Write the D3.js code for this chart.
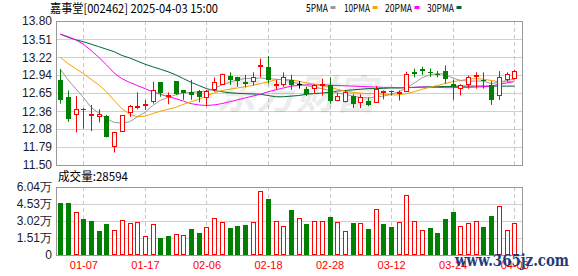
<!DOCTYPE html>
<html>
<head>
<meta charset="utf-8">
<script src="https://cdn.jsdelivr.net/npm/d3@7/dist/d3.min.js"></script>
<style>
    body { margin: 0; background: #fff; }
    svg { display: block; }
</style>
</head>
<body>
<svg id="chart" width="578" height="276"></svg>
<script>
//data
const dates = ['01-02', '01-03', '01-06', '01-07', '01-08', '01-09', '01-10', '01-13', '01-14', '01-15',
    '01-16', '01-17', '01-20', '01-21', '01-22', '01-23', '01-24', '01-27', '02-05', '02-06',
    '02-07', '02-10', '02-11', '02-12', '02-13', '02-14', '02-17', '02-18', '02-19', '02-20',
    '02-21', '02-24', '02-25', '02-26', '02-27', '02-28', '03-03', '03-04', '03-05', '03-06',
    '03-07', '03-10', '03-11', '03-12', '03-13', '03-14', '03-17', '03-18', '03-19', '03-20',
    '03-21', '03-24', '03-25', '03-26', '03-27', '03-28', '03-31', '04-01', '04-02', '04-03'];

const openP = [12.86, 12.59, 12.29, 12.39, 12.29, 12.26, 12.28, 11.78, 12.03, 12.33,
    12.41, 12.44, 12.50, 12.82, 12.59, 12.84, 12.69, 12.67, 12.68, 12.57,
    12.70, 12.79, 12.92, 12.90, 12.82, 12.82, 13.08, 13.07, 12.78, 12.77,
    12.86, 12.79, 12.71, 12.70, 12.77, 12.77, 12.52, 12.50, 12.60, 12.50,
    12.53, 12.50, 12.66, 12.68, 12.64, 12.68, 12.98, 13.04, 12.99, 12.96,
    13.00, 12.79, 12.71, 12.78, 12.91, 12.86, 12.77, 12.60, 12.85, 12.87];
const highP = [13.03, 12.69, 12.60, 12.41, 12.46, 12.39, 12.30, 12.03, 12.30, 12.46,
    12.66, 12.54, 12.83, 12.82, 12.66, 12.84, 12.69, 12.86, 12.70, 12.70,
    12.90, 12.96, 12.98, 12.91, 12.94, 12.98, 13.20, 13.24, 12.86, 12.98,
    12.94, 12.84, 12.75, 12.79, 12.88, 12.90, 12.65, 12.70, 12.63, 12.63,
    12.58, 12.76, 12.69, 12.69, 12.69, 12.99, 13.04, 13.07, 13.04, 13.00,
    13.09, 12.86, 12.79, 12.93, 12.98, 12.98, 12.84, 13.00, 12.98, 13.02];
const lowP = [12.48, 12.19, 12.02, 12.08, 12.04, 12.18, 11.94, 11.70, 12.03, 12.27,
    12.39, 12.38, 12.48, 12.59, 12.47, 12.62, 12.54, 12.54, 12.50, 12.44,
    12.67, 12.78, 12.78, 12.75, 12.74, 12.77, 12.90, 12.80, 12.71, 12.75,
    12.70, 12.72, 12.60, 12.65, 12.61, 12.48, 12.52, 12.50, 12.41, 12.41,
    12.44, 12.50, 12.55, 12.61, 12.53, 12.68, 12.90, 12.94, 12.91, 12.90,
    12.80, 12.54, 12.61, 12.72, 12.72, 12.72, 12.46, 12.54, 12.83, 12.87];
const closeP = [12.54, 12.24, 12.39, 12.37, 12.31, 12.31, 11.94, 12.02, 12.30, 12.44,
    12.44, 12.47, 12.69, 12.65, 12.62, 12.63, 12.65, 12.63, 12.59, 12.68,
    12.82, 12.96, 12.86, 12.84, 12.79, 12.90, 13.10, 12.86, 12.80, 12.90,
    12.78, 12.79, 12.63, 12.77, 12.79, 12.52, 12.60, 12.66, 12.48, 12.59,
    12.47, 12.72, 12.68, 12.66, 12.67, 12.96, 12.95, 13.01, 12.97, 12.95,
    12.87, 12.74, 12.77, 12.90, 12.93, 12.85, 12.53, 12.90, 12.95, 13.00];

const ma5 = [13.03, 12.86, 12.72, 12.58, 12.42, 12.33, 12.24, 12.18, 12.17, 12.19,
    12.27, 12.34, 12.45, 12.53, 12.58, 12.62, 12.65, 12.66, 12.67, 12.68,
    12.72, 12.78, 12.82, 12.86, 12.88, 12.88, 12.89, 12.88, 12.87, 12.86,
    12.83, 12.80, 12.77, 12.74, 12.72, 12.69, 12.65, 12.63, 12.60, 12.58,
    12.57, 12.59, 12.60, 12.63, 12.67, 12.73, 12.81, 12.89, 12.94, 12.96,
    12.95, 12.89, 12.85, 12.84, 12.84, 12.84, 12.80, 12.82, 12.85, 12.87];
const ma10 = [13.22, 13.12, 13.04, 12.96, 12.87, 12.78, 12.67, 12.53, 12.40, 12.31,
    12.27, 12.28, 12.32, 12.36, 12.39, 12.42, 12.47, 12.51, 12.55, 12.60,
    12.65, 12.69, 12.71, 12.73, 12.75, 12.77, 12.80, 12.83, 12.86, 12.87,
    12.86, 12.84, 12.81, 12.79, 12.77, 12.74, 12.71, 12.68, 12.66, 12.65,
    12.64, 12.64, 12.63, 12.62, 12.62, 12.64, 12.67, 12.71, 12.74, 12.77,
    12.80, 12.83, 12.85, 12.87, 12.88, 12.87, 12.85, 12.83, 12.83, 12.84];
const ma20 = [13.59, 13.55, 13.50, 13.43, 13.33, 13.22, 13.10, 12.97, 12.88, 12.82,
    12.77, 12.72, 12.67, 12.63, 12.59, 12.56, 12.52, 12.48, 12.46, 12.45,
    12.46, 12.48, 12.51, 12.54, 12.57, 12.60, 12.63, 12.67, 12.70, 12.73,
    12.76, 12.77, 12.78, 12.78, 12.78, 12.775, 12.77, 12.765, 12.76, 12.755,
    12.75, 12.745, 12.74, 12.74, 12.735, 12.735, 12.74, 12.745, 12.74, 12.74,
    12.735, 12.735, 12.74, 12.74, 12.745, 12.75, 12.76, 12.79, 12.81, 12.83];
const ma30 = [13.59, 13.54, 13.50, 13.47, 13.43, 13.39, 13.35, 13.31, 13.25, 13.21,
    13.16, 13.11, 13.07, 13.03, 12.99, 12.94, 12.88, 12.82, 12.77, 12.72,
    12.69, 12.67, 12.655, 12.645, 12.64, 12.635, 12.63, 12.61, 12.59, 12.59,
    12.60, 12.61, 12.63, 12.64, 12.65, 12.66, 12.68, 12.69, 12.70, 12.71,
    12.72, 12.72, 12.725, 12.73, 12.73, 12.735, 12.74, 12.745, 12.75, 12.75,
    12.755, 12.755, 12.76, 12.76, 12.76, 12.76, 12.76, 12.76, 12.76, 12.76];

const volume = [46200, 46200, 37900, 32000, 30200, 21300, 27500, 21900, 30800, 28400,
    29000, 16900, 27200, 15100, 16900, 18400, 17800, 23100, 19500, 24900,
    32600, 29000, 24300, 25800, 26700, 29000, 56900, 50000, 29900, 25500,
    40000, 32600, 27500, 29900, 29900, 33800, 29000, 21000, 28400, 28100,
    23100, 40900, 27500, 24900, 29000, 53000, 29900, 21900, 24000, 19500,
    32000, 38200, 25500, 28100, 29900, 24900, 34600, 43200, 21900, 28594];
const volUp = [0, 0, 1, 0, 0, 0, 0, 1, 1, 1,
    1, 1, 1, 0, 0, 1, 1, 0, 0, 1,
    1, 1, 0, 0, 0, 1, 1, 0, 1, 1,
    0, 1, 0, 1, 1, 0, 1, 1, 0, 1,
    0, 1, 0, 0, 1, 1, 1, 1, 0, 0,
    0, 0, 1, 1, 1, 0, 0, 1, 1, 1];

const priceTicks = [11.50, 11.79, 12.08, 12.36, 12.65, 12.94, 13.22, 13.51, 13.80];
const volTicks = [0, 15100, 30200, 45300, 60400];
const dateTicks = ['01-07', '01-17', '02-06', '02-18', '02-28', '03-12', '03-24', '04-03'];
const maNames = ['5PMA', '10PMA', '20PMA', '30PMA'];

//layout
const main = { left: 56, right: 522, top: 21, bottom: 165 };
const vol = { top: 187, bottom: 255 };
const red = '#ff0000';
const green = '#008000';
const maColors = ['#9a9a9a', '#f5a300', '#ff00ff', '#006633'];
const axisFont = '"Liberation Sans", Arial, sans-serif';
const cnFont = '"Noto Sans CJK SC", sans-serif';

const svg = d3.select('#chart');

const x = d3.scalePoint().domain(dates).range([60.3, 514.2]);
const y = d3.scaleLinear().domain([11.5, 13.8]).range([main.bottom, main.top]);
const yVol = d3.scaleLinear().domain([0, 60400]).range([vol.bottom, vol.top]);

const px = v => Math.round(v) + 0.5; //crisp 1px lines

const rows = dates.map((d, i) => ({
    date: d,
    open: openP[i],
    high: highP[i],
    low: lowP[i],
    close: closeP[i],
    vol: volume[i],
    up: volUp[i]
}));

//grid lines
svg.append('g')
    .selectAll('line')
    .data(priceTicks.slice(1, -1))
    .enter().append('line')
    .attr('x1', main.left).attr('x2', main.right)
    .attr('y1', d => px(y(d))).attr('y2', d => px(y(d)))
    .attr('stroke', '#d0d0d0');

svg.append('g')
    .selectAll('line')
    .data(volTicks.slice(1, -1))
    .enter().append('line')
    .attr('x1', main.left).attr('x2', main.right)
    .attr('y1', d => px(yVol(d))).attr('y2', d => px(yVol(d)))
    .attr('stroke', '#d0d0d0');

[[main.top, main.bottom], [vol.top, vol.bottom]].forEach(([t, b]) => {
    svg.append('g')
        .selectAll('line')
        .data(dateTicks)
        .enter().append('line')
        .attr('x1', d => px(x(d))).attr('x2', d => px(x(d)))
        .attr('y1', t).attr('y2', b)
        .attr('stroke', '#c8c8c8')
        .attr('stroke-dasharray', '4,3');
});

//watermark behind the candles
svg.append('text')
    .attr('x', 296).attr('y', 109)
    .attr('text-anchor', 'middle')
    .attr('font-family', cnFont)
    .attr('font-size', 40)
    .attr('font-style', 'italic')
    .attr('font-weight', 'bold')
    .attr('fill', '#000')
    .attr('opacity', 0.07)
    .text('东方财富');

//moving averages
const maSeries = [ma5, ma10, ma20, ma30];
maSeries.slice().reverse().forEach((vals, k) => {
    const idx = maSeries.length - 1 - k;
    svg.append('path')
        .datum(vals)
        .attr('fill', 'none')
        .attr('stroke', maColors[idx])
        .attr('stroke-width', 1)
        .attr('d', d3.line().x((d, i) => x(dates[i])).y(d => y(d)));
});

//candles
const candleColor = d => d.close > d.open ? red : (d.close < d.open ? green : '#000');

const candles = svg.append('g')
    .selectAll('g')
    .data(rows)
    .enter().append('g');

candles.append('line')
    .attr('x1', d => px(x(d.date))).attr('x2', d => px(x(d.date)))
    .attr('y1', d => y(d.high)).attr('y2', d => y(d.low))
    .attr('stroke', candleColor);

candles.append('rect')
    .attr('x', d => Math.round(x(d.date)) - 2 + (d.close > d.open ? 0.5 : 0))
    .attr('width', d => d.close > d.open ? 4 : 5)
    .attr('y', d => {
        const top = y(Math.max(d.open, d.close));
        return d.close > d.open ? Math.round(top) + 0.5 : Math.round(top);
    })
    .attr('height', d => {
        const h = Math.abs(y(d.open) - y(d.close));
        return Math.max(d.close > d.open ? Math.round(h) - 1 : Math.round(h), 1);
    })
    .attr('fill', d => d.close > d.open ? '#fff' : candleColor(d))
    .attr('stroke', d => d.close > d.open ? red : 'none');

//volume bars
svg.append('g')
    .selectAll('rect')
    .data(rows)
    .enter().append('rect')
    .attr('x', d => Math.round(x(d.date)) - 2 + (d.up ? 0.5 : 0))
    .attr('width', d => d.up ? 4 : 5)
    .attr('y', d => d.up ? Math.round(yVol(d.vol)) + 0.5 : Math.round(yVol(d.vol)))
    .attr('height', d => vol.bottom - Math.round(yVol(d.vol)) - (d.up ? 1 : 0))
    .attr('fill', d => d.up ? '#fff' : green)
    .attr('stroke', d => d.up ? red : 'none');

//frames
svg.append('rect')
    .attr('x', main.left + 0.5).attr('y', main.top + 0.5)
    .attr('width', main.right - main.left).attr('height', main.bottom - main.top)
    .attr('fill', 'none').attr('stroke', '#999');
svg.append('rect')
    .attr('x', main.left + 0.5).attr('y', vol.top + 0.5)
    .attr('width', main.right - main.left).attr('height', vol.bottom - vol.top)
    .attr('fill', 'none').attr('stroke', '#999');

//axes
const priceAxis = svg.append('g')
    .attr('transform', `translate(${main.left},0)`)
    .call(d3.axisLeft(y).tickValues(priceTicks).tickFormat(d3.format('.2f')).tickSize(0).tickPadding(4));

const volAxis = svg.append('g')
    .attr('transform', `translate(${main.left},0)`)
    .call(d3.axisLeft(yVol).tickValues(volTicks)
        .tickFormat(d => d === 0 ? '0' : (d / 10000).toFixed(2) + '万')
        .tickSize(0).tickPadding(4));

const dateAxis = svg.append('g')
    .attr('transform', `translate(0,${vol.bottom})`)
    .call(d3.axisBottom(x).tickValues(dateTicks).tickSize(0).tickPadding(6));

[priceAxis, volAxis, dateAxis].forEach(g => {
    g.select('.domain').remove();
    g.selectAll('text')
        .attr('font-family', axisFont)
        .attr('font-size', 12)
        .attr('fill', '#1a1a2e');
});
dateAxis.selectAll('text')
    .attr('font-size', 11)
    .attr('fill', red);

//header
svg.append('text')
    .attr('x', 50).attr('y', 12.5)
    .attr('font-family', cnFont)
    .attr('font-size', 12)
    .attr('fill', '#000')
    .attr('textLength', 168)
    .attr('lengthAdjust', 'spacingAndGlyphs')
    .text('嘉事堂[002462] 2025-04-03 15:00');

//legend
const legendX = [306, 344, 385, 427];
const legendW = [22, 26, 27, 27];
const legend = svg.append('g')
    .selectAll('g')
    .data(maNames)
    .enter().append('g');
legend.append('text')
    .attr('x', (d, i) => legendX[i]).attr('y', 12)
    .attr('font-family', cnFont)
    .attr('font-size', 11)
    .attr('textLength', (d, i) => legendW[i])
    .attr('lengthAdjust', 'spacingAndGlyphs')
    .text(d => d);
legend.append('rect')
    .attr('x', (d, i) => legendX[i] + legendW[i] + 2.5).attr('y', 6)
    .attr('width', 5).attr('height', 3)
    .attr('fill', (d, i) => maColors[i]);

//volume caption
svg.append('text')
    .attr('x', 58).attr('y', 181)
    .attr('font-family', cnFont)
    .attr('font-size', 12)
    .attr('textLength', 70)
    .attr('lengthAdjust', 'spacingAndGlyphs')
    .text('成交量:' + volume[volume.length - 1]);

//site mark
svg.append('text')
    .attr('x', 455).attr('y', 266)
    .attr('font-family', '"DejaVu Serif", serif')
    .attr('font-size', 16)
    .attr('font-weight', 'bold')
    .attr('fill', '#1f3c7a')
    .attr('textLength', 114)
    .attr('lengthAdjust', 'spacingAndGlyphs')
    .text('www.365jz.com');
</script>
</body>
</html>
